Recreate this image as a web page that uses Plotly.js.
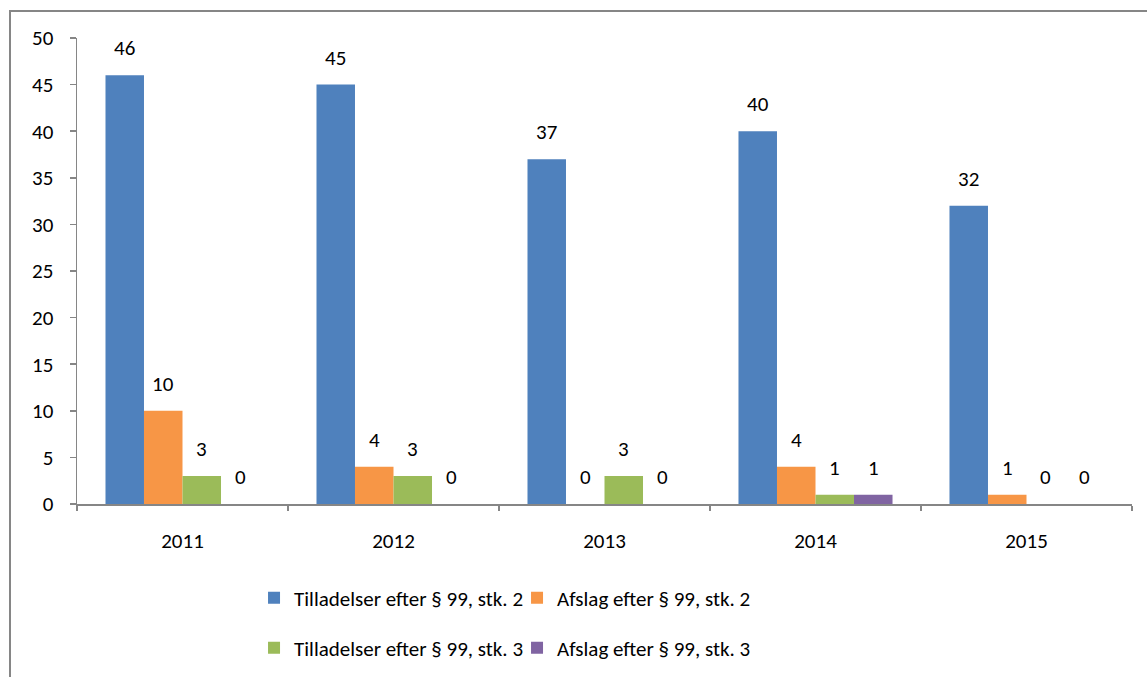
<!DOCTYPE html>
<html>
<head>
<meta charset="utf-8">
<script src="https://cdn.plot.ly/plotly-3.0.1.min.js"></script>
<style>
html,body{margin:0;padding:0;background:#fff;}
#wrap{position:relative;width:1147px;height:677px;overflow:hidden;}
#chart{width:1147px;height:677px;}
#frame{position:absolute;left:9px;top:10px;width:1200px;height:800px;border-left:2px solid #868686;border-top:2px solid #868686;pointer-events:none;}
</style>
</head>
<body>
<div id="wrap"><div id="chart"></div><div id="frame"></div></div>
<script>
const years = ['2011', '2012', '2013', '2014', '2015'];
const seriesNames = ['Tilladelser efter § 99, stk. 2', 'Afslag efter § 99, stk. 2', 'Tilladelser efter § 99, stk. 3', 'Afslag efter § 99, stk. 3'];
const tilladelserStk2 = [46, 45, 37, 40, 32];
const afslagStk2 = [10, 4, 0, 4, 1];
const tilladelserStk3 = [3, 3, 3, 1, 0];
const afslagStk3 = [0, 0, 0, 1, 0];
const yTicks = [0, 5, 10, 15, 20, 25, 30, 35, 40, 45, 50];

const colors = ['#4F81BD', '#F79646', '#9BBB59', '#8064A2'];
const allValues = [tilladelserStk2, afslagStk2, tilladelserStk3, afslagStk3];
const FONT = 'Carlito, Calibri, Lato, sans-serif';
const FS = 21;
const bargap = 0.27;
const nSeries = allValues.length;
const barW = (1 - bargap) / nSeries;

const traces = allValues.map((vals, i) => ({
  type: 'bar',
  name: seriesNames[i],
  x: years,
  y: vals,
  marker: {color: colors[i]},
  legend: i < 2 ? 'legend' : 'legend2',
  hoverinfo: 'skip'
}));

const annotations = [];
allValues.forEach((vals, i) => {
  vals.forEach((v, j) => {
    annotations.push({
      x: j + (i - (nSeries - 1) / 2) * barW,
      y: v,
      xref: 'x', yref: 'y',
      text: String(v),
      showarrow: false,
      yanchor: 'middle',
      yshift: 27,
      font: {family: FONT, size: FS, color: '#000'}
    });
  });
});

const axisColor = '#868686';
const legendBase = {
  orientation: 'h', x: 0.1678, xanchor: 'left', yanchor: 'middle',
  entrywidth: 218, entrywidthmode: 'pixels',
  font: {family: FONT, size: FS, color: '#000'},
  itemclick: false, itemdoubleclick: false, bgcolor: 'rgba(0,0,0,0)'
};
const layout = {
  width: 1147, height: 677,
  margin: {l: 77, r: 15, t: 38, b: 173, autoexpand: false},
  paper_bgcolor: '#fff', plot_bgcolor: '#fff',
  barmode: 'group',
  bargap: bargap,
  bargroupgap: 0,
  font: {family: FONT, size: FS, color: '#000'},
  showlegend: true,
  xaxis: {
    type: 'category',
    tickson: 'boundaries',
    automargin: false,
    ticks: 'outside', ticklen: 5, tickcolor: axisColor, tickwidth: 1.5,
    showline: true, linecolor: axisColor, linewidth: 1.5,
    showgrid: false, zeroline: false,
    ticklabelstandoff: 17,
    tickfont: {family: FONT, size: FS, color: '#000'}
  },
  yaxis: {
    range: [0, 50],
    tickvals: yTicks,
    automargin: false,
    ticks: 'outside', ticklen: 6, tickcolor: axisColor, tickwidth: 1.5,
    showline: true, linecolor: axisColor, linewidth: 1.5,
    showgrid: false, zeroline: false,
    ticklabelstandoff: 12,
    tickfont: {family: FONT, size: FS, color: '#000'}
  },
  legend: Object.assign({}, legendBase, {y: -0.2017}),
  legend2: Object.assign({}, legendBase, {y: -0.3090}),
  annotations: annotations
};

Plotly.newPlot('chart', traces, layout, {displayModeBar: false, staticPlot: true});
</script>
</body>
</html>
